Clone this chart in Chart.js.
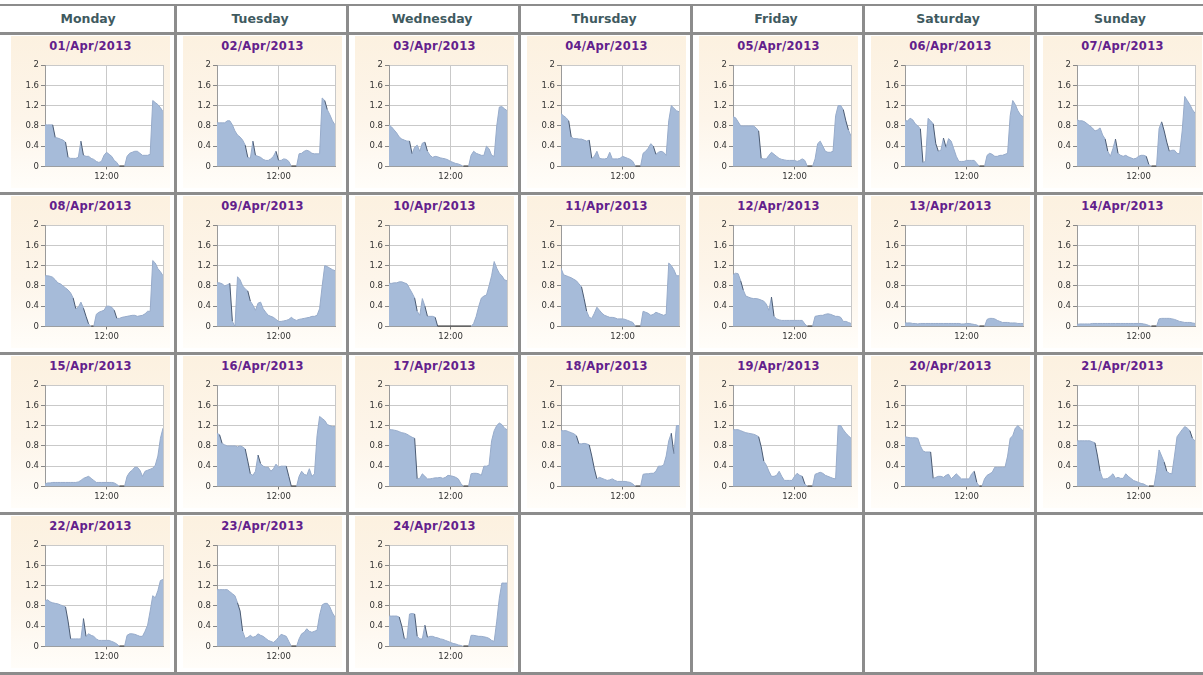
<!DOCTYPE html>
<html>
<head>
<meta charset="utf-8">
<script src="https://cdn.jsdelivr.net/npm/chart.js@4.4.1/dist/chart.umd.min.js"></script>
<style>
  body { margin: 0; background: #fff; font-family: "DejaVu Sans", Verdana, sans-serif; }
  #cal { position: relative; width: 1203px; height: 675px; overflow: hidden; }
  .hline, .vline { position: absolute; background: #8c8c8c; }
  .head { position: absolute; top: 6px; height: 26px; line-height: 26px; text-align: center;
          font-weight: bold; font-size: 12.5px; color: #3f5a5f; }
  .panel { position: absolute; width: 159px; height: 152px;
           background: linear-gradient(to bottom, #fcf1e0 0%, #fdf5ea 55%, #fffdf9 100%); }
  .date { position: absolute; left: 0; right: 0; top: 3px; text-align: center;
          font-weight: bold; font-size: 11.5px; letter-spacing: 0.3px; color: #62208c; }
  .panel canvas { position: absolute; left: 0; top: 0; }
</style>
</head>
<body>
<div id="cal"></div>
<script>
const weekdays = ['Monday', 'Tuesday', 'Wednesday', 'Thursday', 'Friday', 'Saturday', 'Sunday'];
const dates = ['01/Apr/2013', '02/Apr/2013', '03/Apr/2013', '04/Apr/2013', '05/Apr/2013', '06/Apr/2013', '07/Apr/2013',
  '08/Apr/2013', '09/Apr/2013', '10/Apr/2013', '11/Apr/2013', '12/Apr/2013', '13/Apr/2013', '14/Apr/2013',
  '15/Apr/2013', '16/Apr/2013', '17/Apr/2013', '18/Apr/2013', '19/Apr/2013', '20/Apr/2013', '21/Apr/2013',
  '22/Apr/2013', '23/Apr/2013', '24/Apr/2013'];

// half-hour readings, 00:00 .. 23:00
const hours = [0, 0.5, 1, 1.5, 2, 2.5, 3, 3.5, 4, 4.5, 5, 5.5, 6, 6.5, 7, 7.5, 8, 8.5, 9, 9.5,
  10, 10.5, 11, 11.5, 12, 12.5, 13, 13.5, 14, 14.5, 15, 15.5, 16, 16.5, 17, 17.5, 18, 18.5, 19, 19.5,
  20, 20.5, 21, 21.5, 22, 22.5, 23];
const hourTicks = [0, 12, 23];
const yTicks = { min: 0, max: 2, step: 0.4 };

const apr01 = [.82, .82, .82, .82, .57, .56, .54, .52, .48, .18, .16, .16, .16, .18, .5, .22, .2, .2, .16, .14,
  .1, .08, .1, .22, .28, .24, .2, .12, .08, 0, 0, 0, .2, .26, .28, .3, .3, .26, .22, .22,
  .22, .24, 1.3, 1.26, 1.22, 1.16, 1.08];
const apr02 = [.86, .86, .86, .86, .9, .9, .82, .7, .62, .58, .52, .42, .18, .16, .5, .22, .2, .18, .14, .12,
  .12, .15, .2, .3, .12, .12, .15, .14, .1, 0, 0, 0, .25, .26, .3, .32, .3, .26, .25, .25,
  .25, 1.35, 1.3, 1.12, 1.02, .9, .82];
const apr03 = [.82, .78, .72, .66, .58, .54, .52, .5, .5, .25, .38, .42, .3, .46, .48, .3, .22, .18, .2, .19,
  .17, .16, .15, .13, .1, .08, .06, .05, .03, 0, 0, 0, .22, .3, .26, .24, .22, .22, .4, .35,
  .22, .2, .8, 1.17, 1.18, 1.14, 1.1];
const apr04 = [1.04, 1.0, .96, .9, .58, .55, .55, .54, .54, .52, .5, .52, .16, .2, .3, .16, .15, .15, .16, .28,
  .15, .15, .15, .16, .2, .18, .16, .14, .1, 0, 0, 0, .26, .3, .36, .45, .4, .24, .28, .3,
  .28, .22, .9, 1.2, 1.15, 1.1, 1.08];
const apr05 = [.98, .96, .88, .8, .8, .8, .8, .8, .8, .76, .7, .16, .15, .15, .22, .28, .24, .2, .16, .14,
  .13, .12, .12, .12, .12, .1, .12, .15, .12, 0, 0, 0, .15, .45, .5, .4, .3, .28, .28, .3,
  1.0, 1.2, 1.2, 1.12, .9, .72, .6];
const apr06 = [.9, .9, .95, .92, .84, .8, .74, .08, .1, .95, .9, .84, .45, .3, .32, .56, .38, .55, .5, .35,
  .2, .1, .1, .1, .12, .12, .12, .12, .06, 0, 0, 0, .22, .26, .24, .2, .2, .22, .22, .24,
  .26, 1.0, 1.3, 1.22, 1.1, 1.02, .98];
const apr07 = [.92, .9, .9, .88, .84, .8, .76, .7, .72, .76, .62, .54, .3, .2, .35, .54, .26, .22, .2, .22,
  .19, .17, .15, .16, .2, .22, .22, .2, .04, 0, 0, 0, .75, .88, .7, .48, .3, .32, .32, .26,
  .25, .7, 1.38, 1.3, 1.22, 1.12, 1.05];
const apr08 = [1.0, 1.0, .99, .97, .92, .86, .84, .8, .76, .72, .66, .56, .35, .38, .48, .36, .2, .05, 0, 0,
  .24, .28, .3, .32, .4, .4, .38, .32, .16, .16, .18, .19, .2, .21, .22, .22, .2, .21, .22, .25,
  .3, .3, 1.3, 1.25, 1.14, 1.08, 1.0];
const apr09 = [.86, .86, .84, .8, .82, .85, .1, 0, .98, .92, .8, .74, .7, .5, .42, .32, .46, .48, .35, .28,
  .22, .2, .18, .14, .1, .1, .11, .12, .14, .18, .14, .12, .14, .15, .16, .17, .18, .2, .2, .22,
  .35, .8, 1.2, 1.18, 1.15, 1.12, 1.1];
const apr10 = [.85, .85, .86, .86, .88, .88, .86, .84, .75, .66, .56, .3, .22, .55, .4, .2, .2, .2, .18, 0,
  0, 0, 0, 0, 0, 0, 0, 0, 0, 0, 0, 0, 0, .06, .2, .4, .56, .6, .62, .8,
  1.0, 1.28, 1.15, 1.05, 1.0, .92, .9];
const apr11 = [1.15, 1.02, 1.0, .98, .96, .93, .9, .84, .78, .55, .3, .18, .16, .26, .38, .32, .26, .22, .2, .18,
  .18, .17, .15, .15, .15, .14, .12, .1, .08, 0, 0, 0, .3, .28, .26, .22, .24, .28, .26, .24,
  .22, .24, 1.25, 1.2, 1.12, 1.0, 1.0];
const apr12 = [1.02, 1.05, 1.04, .9, .72, .6, .58, .56, .55, .55, .54, .52, .5, .44, .32, .58, .2, .15, .13, .12,
  .12, .12, .12, .12, .12, .12, .12, .12, .05, 0, 0, 0, .2, .21, .22, .22, .24, .25, .24, .22,
  .2, .2, .18, .1, .1, .08, .06];
const apr13 = [.07, .07, .07, .06, .06, .05, .06, .06, .06, .06, .06, .06, .06, .06, .06, .06, .06, .06, .06, .06,
  .06, .06, .05, .05, .06, .06, .05, .04, .03, 0, 0, 0, .14, .16, .16, .15, .12, .1, .08, .08,
  .08, .07, .07, .07, .06, .06, .06];
const apr14 = [.04, .05, .05, .05, .05, .05, .06, .06, .06, .06, .06, .06, .06, .06, .06, .06, .06, .06, .06, .06,
  .06, .06, .06, .06, .06, .06, .05, .04, .02, 0, 0, 0, .15, .16, .16, .16, .16, .15, .14, .12,
  .1, .09, .08, .08, .08, .07, .06];
const apr15 = [.05, .07, .07, .08, .08, .08, .08, .08, .08, .08, .08, .08, .08, .09, .12, .16, .18, .2, .16, .12,
  .08, .08, .08, .08, .08, .08, .08, .07, .04, 0, 0, 0, .2, .28, .32, .38, .38, .32, .2, .3,
  .32, .34, .36, .42, .6, .95, 1.15];
const apr16 = [1.05, 1.02, .85, .82, .8, .8, .8, .8, .78, .8, .78, .74, .5, .25, .22, .3, .62, .45, .4, .38,
  .38, .3, .35, .44, .38, .4, .4, .4, .2, 0, 0, 0, .2, .3, .24, .22, .35, .2, .25, 1.0,
  1.38, 1.34, 1.3, 1.22, 1.2, 1.18, 1.18];
const apr17 = [1.12, 1.12, 1.11, 1.1, 1.08, 1.06, 1.05, 1.03, 1.0, .97, .95, .15, .16, .25, .2, .15, .15, .16, .17, .17,
  .18, .16, .18, .22, .21, .2, .18, .15, .06, 0, 0, 0, .25, .26, .26, .25, .22, .4, .4, .42,
  .9, 1.1, 1.2, 1.25, 1.22, 1.15, 1.12];
const apr18 = [1.1, 1.1, 1.1, 1.08, 1.06, 1.04, 1.0, .84, .84, .85, .84, .82, .6, .35, .15, .18, .16, .14, .12, .13,
  .15, .12, .1, .1, .1, .1, .09, .08, .05, 0, 0, 0, .24, .25, .25, .26, .26, .3, .4, .4,
  .42, .6, .9, 1.05, .65, 1.2, 1.2];
const apr19 = [1.12, 1.12, 1.12, 1.1, 1.08, 1.06, 1.05, 1.04, 1.03, 1.01, .98, .78, .5, .42, .3, .2, .2, .22, .3, .2,
  .12, .12, .12, .12, .2, .26, .22, .2, .05, 0, 0, 0, .24, .26, .28, .26, .22, .2, .18, .16,
  .15, 1.2, 1.2, 1.12, 1.05, 1.0, .95];
const apr20 = [.98, .97, .96, .96, .96, .95, .8, .7, .68, .68, .68, .16, .18, .2, .2, .18, .22, .24, .15, .2,
  .25, .2, .15, .15, .15, .15, .25, .3, .08, 0, 0, .15, .22, .25, .28, .38, .38, .38, .38, .38,
  .6, .95, 1.0, 1.15, 1.2, 1.15, 1.1];
const apr21 = [.9, .9, .9, .9, .9, .9, .88, .86, .6, .3, .15, .15, .16, .2, .25, .16, .18, .16, .16, .25,
  .2, .16, .12, .1, .08, .06, .05, .02, 0, 0, 0, .3, .72, .6, .48, .3, .26, .25, .6, .98,
  1.05, 1.12, 1.18, 1.15, 1.1, .95, .9];
const apr22 = [.9, .92, .88, .86, .85, .84, .82, .8, .78, .5, .15, .15, .15, .15, .15, .55, .2, .25, .22, .2,
  .15, .12, .12, .12, .12, .12, .1, .08, .05, 0, 0, 0, .22, .25, .25, .24, .22, .2, .2, .3,
  .42, .7, 1.0, .96, 1.1, 1.3, 1.32];
const apr23 = [1.12, 1.12, 1.12, 1.12, 1.12, 1.08, 1.04, 1.0, .86, .7, .3, .16, .18, .22, .18, .2, .25, .22, .2, .16,
  .12, .1, .08, .12, .18, .24, .22, .2, .1, 0, 0, 0, .15, .25, .28, .35, .3, .28, .3, .32,
  .62, .82, .85, .85, .78, .66, .58];
const apr24 = [.6, .6, .6, .6, .58, .4, .15, .15, .64, .65, .64, .2, .15, .15, .42, .18, .2, .2, .18, .17,
  .15, .14, .12, .1, .08, .06, .05, .03, .02, 0, 0, 0, .22, .22, .21, .2, .2, .19, .18, .16,
  .12, .1, .5, .95, 1.25, 1.25, 1.25];

const days = [apr01, apr02, apr03, apr04, apr05, apr06, apr07, apr08, apr09, apr10, apr11, apr12,
  apr13, apr14, apr15, apr16, apr17, apr18, apr19, apr20, apr21, apr22, apr23, apr24];

const COL0 = 3, COLW = 172, ROW0 = 33, ROWH = 160;
const cal = document.getElementById('cal');

function box(cls, l, t, w, h) {
  const d = document.createElement('div');
  d.className = cls;
  d.style.left = l + 'px'; d.style.top = t + 'px';
  if (w != null) d.style.width = w + 'px';
  if (h != null) d.style.height = h + 'px';
  cal.appendChild(d);
  return d;
}

// header
weekdays.forEach(function (name, i) {
  const h = box('head', COL0 + i * COLW, 6, COLW - 2, null);
  h.textContent = name;
});

const plotBg = {
  id: 'plotBg',
  beforeDraw(c) {
    const a = c.chartArea, g = c.ctx;
    g.save();
    g.fillStyle = '#ffffff';
    g.fillRect(a.left, a.top, a.width, a.height);
    g.restore();
  }
};

// dark outline on steep drops and on flat zero stretches
function segColor(ctx) {
  const y0 = ctx.p0.parsed.y, y1 = ctx.p1.parsed.y;
  if (y0 === 0 && y1 === 0) return '#2e2e2e';
  if (y1 < y0 - 0.15) return '#4a5a72';
  return '#97abca';
}

days.forEach(function (vals, k) {
  const col = k % 7, row = Math.floor(k / 7);
  const left = COL0 + col * COLW, top = ROW0 + row * ROWH;
  const panel = box('panel', left + 8, top + 3, null, null);
  const t = document.createElement('div');
  t.className = 'date';
  t.textContent = dates[k];
  panel.appendChild(t);
  const cv = document.createElement('canvas');
  cv.width = 159; cv.height = 152;
  panel.appendChild(cv);

  const points = hours.map(function (h, i) { return { x: h, y: vals[i] }; });

  new Chart(cv, {
    type: 'line',
    data: {
      datasets: [{
        data: points,
        fill: false,
        borderWidth: 1,
        pointRadius: 0,
        tension: 0,
        segment: {
          borderColor: segColor,
          borderWidth: function (ctx) { return (ctx.p0.parsed.y === 0 && ctx.p1.parsed.y === 0) ? 2 : 1; }
        }
      }, {
        data: points,
        fill: 'origin',
        backgroundColor: '#a6bbd9',
        borderWidth: 0,
        pointRadius: 0,
        tension: 0
      }]
    },
    options: {
      responsive: false,
      animation: false,
      events: [],
      layout: { padding: { top: 29, right: 7, bottom: 1.5, left: 0 } },
      plugins: { legend: { display: false }, tooltip: { enabled: false } },
      scales: {
        x: {
          type: 'linear',
          min: hours[0],
          max: hours[hours.length - 1],
          afterBuildTicks: function (s) { s.ticks = hourTicks.map(function (v) { return { value: v }; }); },
          afterFit: function (s) { s.height = 20; },
          ticks: {
            autoSkip: false, maxRotation: 0, padding: 2,
            color: '#333', font: { family: 'DejaVu Sans', size: 8.5 },
            callback: function (v) { return v === 12 ? '12:00' : ''; }
          },
          grid: {
            color: '#c9c9c9', tickLength: 3,
            tickColor: function (ctx) { return ctx.tick && ctx.tick.value === 12 ? '#777' : 'rgba(0,0,0,0)'; }
          },
          border: { color: '#9a9a9a' }
        },
        y: {
          min: yTicks.min,
          max: yTicks.max,
          afterFit: function (s) { s.width = 34; },
          ticks: {
            stepSize: yTicks.step, padding: 2,
            color: '#333', font: { family: 'DejaVu Sans', size: 8.5 },
            callback: function (v) { return String(Math.round(v * 10) / 10); }
          },
          grid: { color: '#c9c9c9', tickLength: 4, tickColor: '#888' },
          border: { color: '#9a9a9a' }
        }
      }
    },
    plugins: [plotBg]
  });
});

// table rules
box('hline', 0, 4, 1203, 2);
for (let j = 0; j < 5; j++) box('hline', 0, 32 + j * ROWH, 1203, 3);
for (let i = 0; i < 6; i++) box('vline', 174 + i * COLW, 4, 3, 671);
</script>
</body>
</html>
